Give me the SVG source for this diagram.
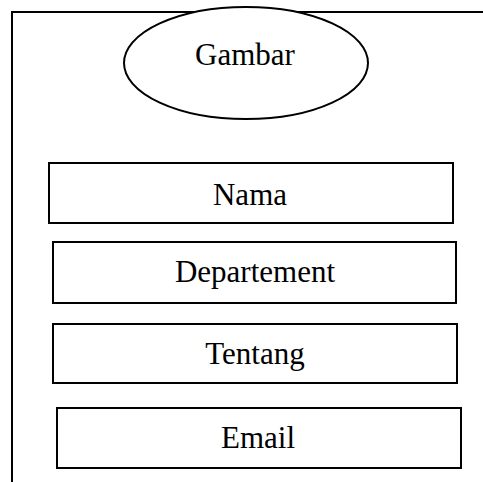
<svg xmlns="http://www.w3.org/2000/svg" width="483" height="482" viewBox="0 0 483 482">
<style>
.s{fill:#fff;stroke:#000;stroke-width:2}
.t{font-family:"Liberation Serif","Times New Roman",serif;font-size:31px;fill:#000;text-anchor:middle}
</style>
<rect width="483" height="482" fill="#fff"/>
<g id="frame"><path d="M12 482 V12 H483" fill="none" stroke="#000" stroke-width="2"/></g>
<g id="gambar"><ellipse class="s" cx="246" cy="63" rx="122" ry="56"/><text class="t" x="245" y="65">Gambar</text></g>
<g id="nama"><rect class="s" x="49" y="163" width="404" height="60"/><text class="t" x="250" y="205">Nama</text></g>
<g id="departement"><rect class="s" x="53" y="242" width="403" height="61"/><text class="t" x="255" y="282">Departement</text></g>
<g id="tentang"><rect class="s" x="53" y="324" width="404" height="59"/><text class="t" x="255" y="364">Tentang</text></g>
<g id="email"><rect class="s" x="57" y="408" width="404" height="60"/><text class="t" x="258" y="448">Email</text></g>
<g id="connectors"/>
</svg>
